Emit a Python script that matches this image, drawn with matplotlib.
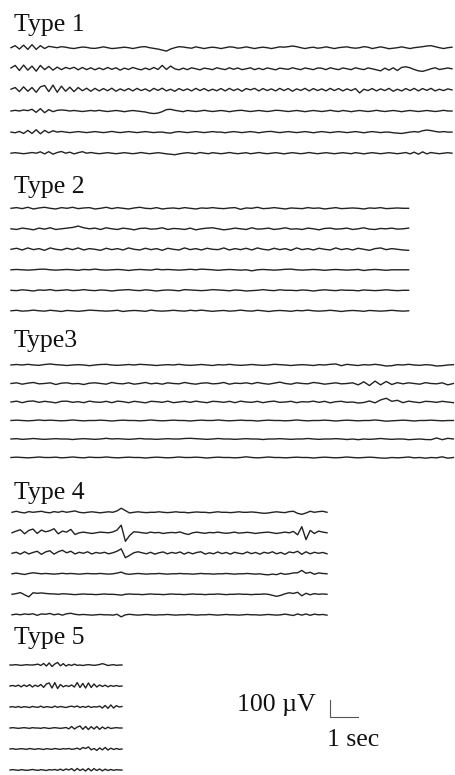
import numpy as np
import matplotlib.pyplot as plt

plt.rcParams['font.family'] = ['Liberation Serif', 'DejaVu Serif']

PX_PER_SEC = 28.0      # horizontal scale
PX_PER_100UV = 17.0    # vertical scale
W, H = 456, 775

# EEG samples in uV (positive = up), one list per channel
type1_traces = [
    [0, 12, -8, 15, -10, 18, -10, 12, -5, 8,
     4, 0, 6, 3, -2, -5, 0, 4, 2, -3,
     -4, 0, 5, 0, -5, -3, 0, 3, 0, -5,
     0, 5, 6, 0, -4, -8, -14, -20, -8, 0,
     6, 4, 0, -3, 5, 0, -5, 0, 3, 0,
     -5, 0, 5, 3, -3, 0, 5, 0, -5, 0,
     3, 0, -5, 0, 5, 3, 6, 10, 6, 0,
     -5, 0, 3, -3, 0, 5, 0, -5, 0, 3,
     5, 0, -3, 0, 6, 3, -5, 0, 5, 0,
     -6, -3, 0, 5, 0, -5, 0, 3, 6, 10,
     12, 6, 0, -5, 0, 3],
    [5, 20, -10, 22, -8, 16, -14, 20, -5, 14,
     -8, 10, -5, 8, 0, 9, -6, 8, -5, 6,
     -6, 5, -5, 8, -3, 6, -8, 4, -4, 8,
     0, -6, 4, -5, 8, -4, 20, -4, 16, 0,
     -6, 4, -5, 6, 0, -6, 4, 0, -5, 6,
     0, -5, 6, -3, 5, -5, 0, 6, -5, 3,
     -5, 5, 0, -6, 4, 0, -3, 6, 0, -5,
     5, 0, -5, 5, 3, -5, 6, 0, -5, 5,
     0, -5, 6, 0, -5, 5, 0, -6, -12, 4,
     -8, 6, -10, 8, 12, 6, -4, -12, -15, -8,
     0, 6, -4, 0, 5, 0],
    [4, 14, -10, 18, -8, 14, -14, 18, 26, -10,
     28, -14, 22, -8, 16, -10, 14, -5, 10, -8,
     9, -6, 8, -5, 10, -8, 6, -5, 8, -6,
     9, -4, 6, -8, 9, -3, 10, -6, 4, -8,
     8, -4, 6, -6, 9, -4, 8, -6, 4, -5,
     8, -6, 9, -4, 6, -8, 8, 0, 9, -6,
     8, -4, 6, -6, 9, -4, 8, -8, 6, -3,
     9, -6, 8, -4, 6, -6, 9, -4, 8, -6,
     6, -4, 8, -18, 4, -4, 8, -6, 6, -4,
     9, -8, 4, -6, 8, -4, 9, -6, 8, -3,
     9, -6, 4, -4, 6, 0],
    [0, 4, 0, 6, 2, 10, -8, 14, -10, 8,
     -4, 4, 6, 4, 0, 3, 0, -3, 0, 3,
     0, 4, 0, -3, 0, 3, 0, -4, 0, 3,
     0, -3, -6, -12, -15, -12, -4, 8, 10, 4,
     0, -4, 3, 0, -3, 0, 4, 0, -3, 0,
     3, 0, -4, 0, 3, 4, 0, -3, 0, 3,
     0, -3, 0, 4, 3, 0, -3, 0, 3, 0,
     -4, 0, 3, 0, -3, 0, 4, 0, -3, 3,
     0, -4, 0, 3, 0, -3, 0, 4, 0, -3,
     0, 3, 0, -4, 0, 3, 0, -3, 0, 3,
     0, -3, 0, 4, 0, 0],
    [0, -4, 4, -8, 10, -8, 14, -10, 10, -4,
     8, 0, 4, 0, -3, 0, 3, 0, -3, 0,
     3, 0, -3, 0, 4, 0, -3, 0, 3, 0,
     -3, 0, 3, 0, -3, 0, 0, -4, -6, 0,
     3, 0, -3, 0, 3, 0, -3, 0, 3, 0,
     0, -4, 0, 3, 0, -3, 0, 3, 0, -4,
     0, 3, 4, 0, -3, 0, 3, 0, -3, 0,
     3, 0, -4, 0, 3, 0, -3, 0, 3, 0,
     -3, 0, 3, 0, -4, 0, 3, 0, -3, 0,
     0, -4, -6, -8, -4, 0, 3, 0, 8, 12,
     9, 4, 0, 3, 0, 0],
    [0, 3, 0, -3, 0, 4, 0, 8, -4, 9,
     -6, 4, 10, 0, 6, -4, 3, 9, 0, 4,
     0, -3, 0, 3, 0, -3, 0, 3, 0, -3,
     0, 4, 0, -3, 0, 3, 0, -4, -6, -9,
     -4, 0, 3, 0, -3, 4, 0, -3, 3, 0,
     -3, 0, 4, 0, -3, 0, 3, -3, 0, 4,
     0, -3, 0, 3, 0, -4, 0, 3, 0, -3,
     0, 4, 0, -3, 0, 3, 0, -3, 0, 3,
     0, -3, 3, 0, -4, 0, 3, 0, -3, 0,
     3, 0, -3, 0, 4, -4, 6, -6, 8, -4,
     4, 0, -3, 0, 3, 0],
]

type2_traces = [
    [0, 4, -2, 6, -4, 2, 6, 0, -4, 4,
     0, 6, -2, 2, 4, -4, 0, 6, -2, 4,
     0, -4, 2, 6, 0, -2, 4, -4, 0, 2,
     -2, 4, 0, -4, 2, 0, 4, 0, -2, 2,
     4, -6, 2, 0, 6, -2, 0, 4, 0, -4,
     2, 0, -2, 4, 0, 2, -4, 0, 4, -2,
     0, 2, 0, -4, 2, 0, 4, -2, 0, 2,
     0, 0],
    [0, -4, 4, 0, -6, 4, -2, 6, -4, 0,
     4, 8, 16, 6, 0, 4, -4, 6, 0, -4,
     4, 0, -6, 2, 4, -2, 0, 6, -4, 2,
     0, -4, 4, -6, 0, 4, 6, 0, -6, -2,
     4, 0, -4, 6, -2, 0, 4, -4, 0, 6,
     -2, 0, -4, 4, 0, -6, 2, 4, -2, 0,
     4, -4, 0, 6, -2, -4, 2, 0, 4, -2,
     0, 4],
    [0, 6, -4, 8, -2, 4, -6, 8, 0, -4,
     6, -2, 8, -4, 4, 0, -6, 6, -2, 4,
     -4, 8, 0, -4, 6, -2, 4, -6, 6, 0,
     -4, 8, -2, 4, -4, 6, 0, -2, 8, -4,
     4, -2, 6, -4, 8, 0, -4, 6, -2, 4,
     -6, 8, -2, 4, -4, 6, 0, -4, 8, -2,
     4, -4, 6, 0, -6, 4, 8, -2, 4, 0,
     -4, -6],
    [0, 2, 0, -2, 0, 3, 4, 0, -2, 0,
     2, 0, -3, 2, 0, 4, 0, -2, 0, 2,
     0, -4, 0, 2, 0, -2, 4, 0, 2, 0,
     -2, 0, 3, 0, 4, 2, 0, -3, 0, 2,
     0, -2, 0, -6, 0, 2, 0, -2, 0, 3,
     4, 0, -2, 0, 2, 0, -3, 0, 2, 0,
     -2, 0, 2, -4, 0, 2, 0, -3, 0, 0,
     0, 0],
    [0, -2, 3, 0, -4, 2, 0, 4, -2, 0,
     3, -2, 0, 4, 0, -2, 2, 0, -4, 0,
     2, 4, 0, -2, 3, 0, -4, 0, 2, 0,
     -3, 4, 2, 0, -2, 0, 4, 2, 0, -3,
     2, 0, -4, -2, 0, 4, 0, -2, 3, 0,
     0, -2, 2, 0, -4, 0, 3, 0, -2, 2,
     0, 0, -3, 2, 0, -2, 0, 3, 0, -2,
     0, 0],
    [0, 3, -2, 0, 4, 0, -2, 3, 0, -4,
     2, 0, -3, 0, 4, 2, 0, -2, 0, 3,
     -4, 0, 2, 0, -3, 4, 0, -2, 0, 3,
     0, -2, 3, 0, 4, 0, -3, 0, 2, -2,
     0, 4, 0, -2, 3, 0, -4, 0, 2, 0,
     -3, 2, 0, 4, 0, -2, 0, 3, 0, -4,
     0, 2, 0, -3, 2, 0, -2, 0, 3, 0,
     -2, 0],
]

type3_traces = [
    [0, 3, 0, 4, 0, -2, 3, 6, 2, 0,
     -3, 0, 2, 0, -4, 0, 3, 4, 0, -2,
     0, 3, 0, 4, 2, 0, -3, 0, 2, 0,
     4, 0, -2, 0, 3, 0, -3, 2, 0, 4,
     0, -2, 0, 3, 0, -2, 0, 4, 2, 0,
     -3, 0, 2, 0, -3, 2, 0, 4, 6, -4,
     4, 0, -3, 2, 0, 4, 0, -6, -4, 2,
     0, 4, 0, -2, 2, 0, -6, -4, 0, 2],
    [0, 4, -4, 2, 6, -2, 0, 4, -6, 2,
     4, -2, 0, -6, 2, 4, 0, -4, 6, 0,
     -2, 4, -4, 0, 6, -2, 2, -4, 4, 0,
     -2, 6, 0, -4, 2, 4, -2, 0, 6, -4,
     2, 0, 4, -2, 6, 0, -4, 2, 8, 0,
     -4, 4, 0, -2, 6, 2, -4, 0, 4, -2,
     0, 4, -8, 10, -12, 14, -8, 12, -6, 5,
     -2, 4, 0, -4, 5, 0, -2, 4, -8, 0],
    [0, 5, -4, 4, 6, -2, 4, 0, -5, 4,
     5, -2, 2, -4, 5, 0, -2, 4, -4, 5,
     2, -4, 4, 0, -5, 4, 2, -2, 5, -4,
     0, 4, -2, 5, 0, -4, 4, 2, -2, 4,
     -4, 5, 0, -2, 4, -4, 2, 5, -2, 0,
     4, -4, 2, 0, 5, -2, 4, -5, 2, 4,
     -2, 0, -6, -3, 6, -5, 12, 22, 4, 10,
     -4, 5, 0, -4, 4, 2, -2, 4, 0, -4],
    [0, 2, 0, -2, 0, 3, 0, 2, 0, -2,
     0, 3, 0, -2, 0, 0, 2, 0, -3, 0,
     2, 0, 0, -2, 0, 3, 0, -2, 0, 2,
     0, 0, -3, 0, 2, 0, 0, 3, 0, -2,
     0, 2, 0, 0, -3, 0, 2, 0, 0, -2,
     0, 3, 0, -2, 0, 0, 2, 0, -3, 0,
     2, 0, -2, 0, 0, 3, 0, -4, -2, 0,
     2, 0, -3, 0, 0, 2, 0, -2, 0, 0],
    [0, 2, -2, 0, 3, 0, -2, 0, 2, 0,
     0, -3, 0, 2, 0, -2, 0, 4, 0, 2,
     0, -2, 0, 3, 0, 0, -2, 0, 2, 0,
     0, 3, 4, 2, 0, -2, 0, 3, 0, 0,
     -2, 0, 2, 0, 0, -3, 0, 0, 2, 0,
     -2, 0, 0, 3, 0, -2, 0, 0, 2, 0,
     -3, 0, -4, 0, -2, 0, 3, 0, -2, 0,
     0, -4, -2, 0, -3, -4, 6, -4, 4, 0],
    [0, 2, 0, -2, 0, 3, 0, 0, 2, -2,
     0, 3, 0, -2, 2, 0, 0, 3, 0, -2,
     0, 2, 0, 0, -3, 0, 2, 0, -2, 0,
     3, 0, 0, 2, 0, -3, 0, 2, 0, 0,
     -2, 0, 4, 0, -2, 0, 3, 0, 0, -2,
     0, 2, 0, 0, -3, 0, 2, 0, -2, 0,
     3, 0, -2, 0, 2, 0, -3, -4, 0, -2,
     0, 3, -2, 0, -4, 0, -2, 4, -4, 0],
]

type4_traces = [
    [0, 6, 0, -4, 4, 0, 3, 6, 0, -3,
     4, 0, 6, 0, 4, 8, 0, -3, 0, 3,
     0, -3, 0, 3, 0, 8, 24, 10, -4, 0,
     3, 0, -2, 0, 0, 3, 0, -2, 0, 3,
     0, 0, -3, 0, 2, 0, 0, -3, 0, 3,
     0, 0, -2, 0, 3, 0, 0, 2, 0, -3,
     -6, -4, 0, 3, 0, -2, 4, 6, -6, -12,
     -4, 6, 0, 4, 6, 0],
    [0, 10, 18, -6, 14, 22, -4, 16, 6, 12,
     24, -6, 10, 4, 20, -10, 0, 4, 0, -4,
     0, 4, 2, 0, 5, 16, 45, -50, -16, 6,
     4, 0, -3, 4, 0, 2, -4, 0, 2, 0,
     5, -4, -10, 0, 4, 0, -3, 2, 0, 4,
     0, -3, 0, 4, -2, 0, 3, 0, -4, 0,
     2, 4, 0, -4, 0, 4, 0, 8, -12, 36,
     -40, 14, -4, 10, 4, 0],
    [0, 6, -5, 9, -4, 5, 12, -6, 8, 15,
     -5, 9, 18, 3, 12, -4, 6, 0, 9, -4,
     5, 0, 6, -3, 3, 12, 26, -26, -12, 3,
     9, 3, -3, 6, -5, 3, 8, -3, 5, 0,
     8, -5, 6, -3, 5, 9, -5, 3, -3, 8,
     -2, 5, -5, 6, 0, -3, 8, -2, 5, -5,
     6, 0, 9, -3, 5, -6, 8, 3, 12, -6,
     9, -3, 6, 0, 5, -3],
    [0, 4, 0, -4, 2, 6, 3, 0, 2, 0,
     -2, 0, 3, 0, 2, 0, -2, 0, 2, 0,
     0, 2, 0, -2, 0, 4, 10, 0, -3, 0,
     2, 0, -2, 0, 0, 2, 0, -2, 0, 0,
     2, 0, 0, -2, 0, 2, 0, 0, -2, 0,
     0, 2, 0, -2, 0, 0, 2, 0, -2, 0,
     -4, -6, -2, -5, 3, -3, 0, 5, 6, 20,
     3, 9, -3, 5, 2, 0],
    [0, 4, 10, -3, -15, 9, 6, 8, 5, 3,
     2, 0, 3, 2, 0, -2, 0, 2, 0, 0,
     -2, 0, 2, 0, 0, -2, -5, 0, 2, 0,
     0, -2, 0, 2, 0, 0, -2, 0, 2, 0,
     0, -2, 0, 2, 0, 0, -2, 0, 0, 2,
     0, -2, 0, 0, 2, 0, 0, -2, 0, 0,
     2, 0, -6, -12, -6, 3, 9, 5, 12, -9,
     6, -3, 4, 0, 2, 0],
    [0, 4, 0, 5, 2, 6, -3, 5, 3, 8,
     0, 5, -2, 6, 9, 3, 0, 2, 0, -2,
     0, 2, 0, 0, -2, 3, -12, 0, 3, 0,
     -2, 0, 2, 0, -2, 0, 0, 2, 0, -2,
     0, 0, 2, 0, -2, 0, 0, 2, 0, -2,
     0, 2, 0, 0, -2, 0, 2, 0, 0, -2,
     0, 2, 0, -2, 0, 4, 0, -4, 5, -2,
     5, -3, 4, 0, 2, -2],
]

type5_traces = [
    [0, 0, 2, 0, -2, 0, 2, 0, 0, 2,
     5, -3, 9, -6, 12, -9, 6, 15, -5, 8,
     -6, 3, -3, 5, -2, 0, -3, 0, 2, 0,
     -2, 0, 3, 8, 3, -3, 0, 2, -2, 0,
     0],
    [0, 3, -2, 5, -5, 6, -3, 8, -6, 5,
     -3, 9, -8, 12, 18, -12, 20, -15, 9, -5,
     3, -3, 6, -6, 20, -9, 15, -12, 18, -9,
     12, -6, 6, -3, 5, -5, 3, -2, 3, -2,
     0],
    [0, 2, -2, 3, -3, 2, 0, -3, 3, 0,
     -2, 5, -3, 2, 0, -3, 5, -2, 3, 0,
     -3, 2, 5, 0, 6, -3, 3, -2, 5, -3,
     2, 0, 5, -6, 9, -8, 12, -6, 8, 0,
     3],
    [0, 2, 0, -2, 0, 2, 0, -2, 2, 0,
     0, -2, 2, 0, -3, 0, 2, 0, -2, 0,
     3, -5, 9, -6, 5, 12, -8, 9, -9, 8,
     -6, 9, -8, 6, -5, 5, -3, 0, 2, 0,
     0],
    [0, 2, -2, 0, 2, 0, -2, 3, 0, -2,
     2, 0, -3, 2, 0, -2, 3, 0, -2, 2,
     0, 3, -2, 0, 5, -3, 9, 3, 12, -5,
     3, -8, 6, -5, 9, -6, 5, -3, 3, -2,
     0],
    [0, 2, 0, -2, 2, 0, -2, 0, 3, 0,
     -2, 2, 0, -3, 2, 0, 3, -2, 5, -3,
     6, 0, 8, -5, 9, -3, 6, -6, 9, -5,
     8, -3, 6, -5, 5, -3, 3, -2, 2, 0,
     0],
]

titles = ['Type 1', 'Type 2', 'Type3', 'Type 4', 'Type 5']
sample_dt = [0.15, 0.2, 0.2, 0.15, 0.1]   # seconds between samples
all_traces = [type1_traces, type2_traces, type3_traces, type4_traces, type5_traces]

# layout in pixels: trace start x, first baseline y, row gap, title baseline y
trace_x0 = [11, 11, 11, 12, 10]
first_row = [47.7, 208.3, 365.0, 512.3, 665.0]
row_gap = [21.1, 20.5, 18.5, 20.5, 21.0]
title_y = [30.5, 193.5, 347.5, 498.5, 644.0]


def px_x(px):
    return px / PX_PER_SEC


def px_y(py):
    return py * 100.0 / PX_PER_100UV


fig = plt.figure(figsize=(W / 100, H / 100), dpi=100)
ax = fig.add_axes([0, 0, 1, 1])
ax.set_xlim(0, px_x(W))
ax.set_ylim(px_y(H), 0)
ax.axis('off')

for k, traces in enumerate(all_traces):
    ax.text(px_x(14), px_y(title_y[k]), titles[k], fontsize=18.5,
            ha='left', va='baseline', color='#111111')
    for j, vals in enumerate(traces):
        v = np.array(vals, dtype=float)
        t = px_x(trace_x0[k]) + np.arange(len(v)) * sample_dt[k]
        base = px_y(first_row[k] + j * row_gap[k])
        ax.plot(t, base - v, color='#222222', lw=1.0)

# calibration bar: 100 uV up, 1 sec across
cx, cy = px_x(330), px_y(717)
ax.plot([cx, cx, cx + 1.0], [cy - 100, cy, cy], color='#555555', lw=0.8)
ax.text(px_x(316), px_y(711.5), '100 \u00b5V', fontsize=18.5,
        ha='right', va='baseline', color='#111111')
ax.text(px_x(327), px_y(746), '1 sec', fontsize=18.5,
        ha='left', va='baseline', color='#111111')

fig.savefig('out.png', dpi=100)
